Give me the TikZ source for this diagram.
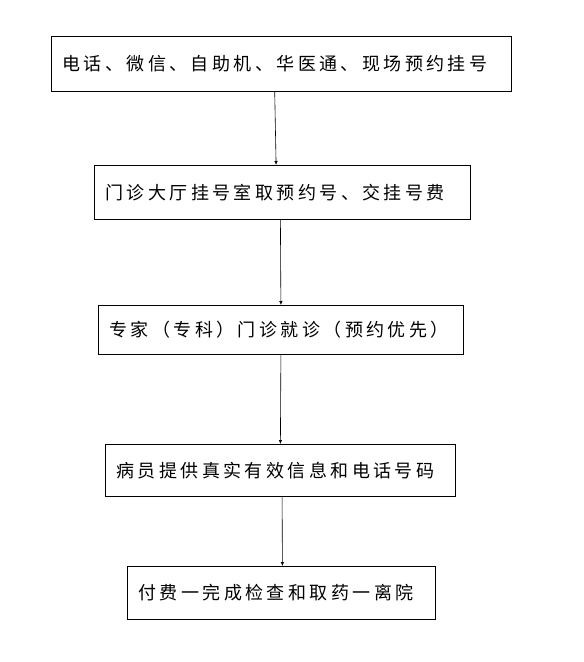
\documentclass[tikz,border=0pt]{standalone}
\usepackage{fontspec}
\newfontfamily\cjk[LetterSpace=19]{Noto Sans CJK SC}
\usetikzlibrary{arrows.meta,positioning,calc}

\begin{document}
\begin{tikzpicture}[x=1pt,y=-1pt,
  stepbox/.style={draw,line width=0.8pt,anchor=north west,inner xsep=11pt,inner ysep=0pt,align=left,
    font=\cjk\fontsize{18pt}{20pt}\selectfont},
  flow/.style={-{Latex[length=4pt,width=3.5pt]},line width=0.6pt}]
\useasboundingbox (0,0) rectangle (584,662);
\node[stepbox,text width=438pt,minimum height=55pt] (reg) at (51,36) {电话、微信、自助机、华医通、现场预约挂号};
\node[stepbox,text width=354pt,minimum height=54pt] (fee) at (94,165) {门诊大厅挂号室取预约号、交挂号费};
\node[stepbox,text width=343pt,minimum height=49pt] (visit) at (98,305) {专家（专科）门诊就诊（预约优先）};
\node[stepbox,text width=328pt,minimum height=52pt] (info) at (105,444) {病员提供真实有效信息和电话号码};
\node[stepbox,text width=286pt,minimum height=53pt] (pay) at (127,566) {付费一完成检查和取药一离院};
\draw[flow] ([xshift=-6.7pt]reg.south) -- ([xshift=-6.3pt]fee.north);
\draw[flow] ([xshift=-2pt]fee.south) -- (visit.north);
\draw[flow] (visit.south) -- (info.north);
\draw[flow] ([xshift=1.7pt]info.south) -- ([xshift=1pt]pay.north);
\end{tikzpicture}
\end{document}
